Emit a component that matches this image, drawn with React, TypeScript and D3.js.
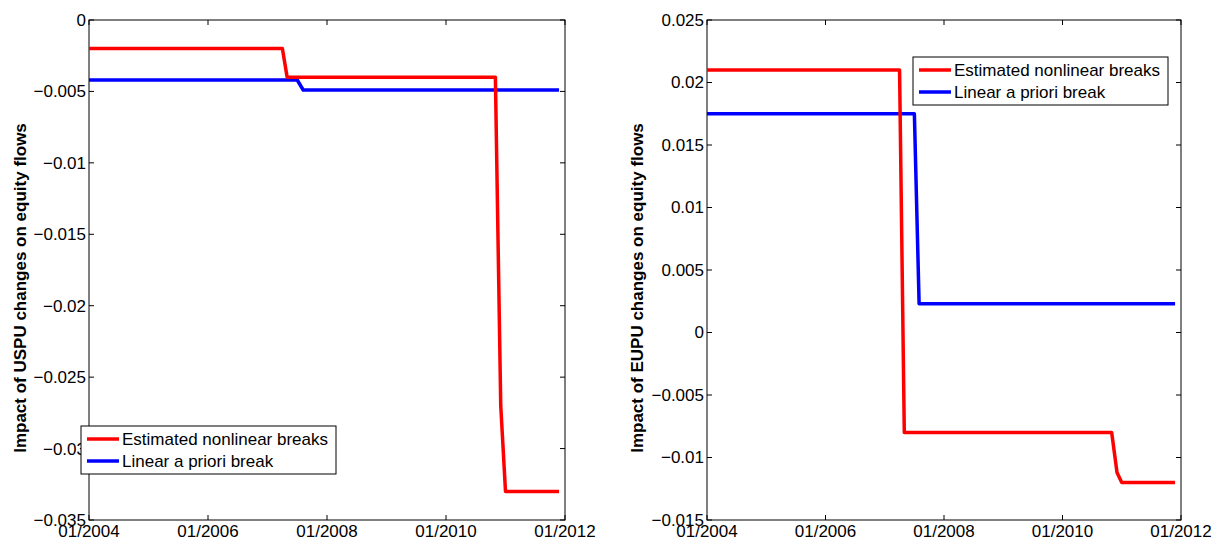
import * as d3 from 'd3'

const xTicks = [2004, 2006, 2008, 2010, 2012]
const xTickLabels = ['01/2004', '01/2006', '01/2008', '01/2010', '01/2012']

const usX = [2004, 2007.25, 2007.33, 2010.83, 2010.92, 2011.0, 2011.9]
const usRed = [-0.002, -0.002, -0.004, -0.004, -0.027, -0.033, -0.033]
const usBlueX = [2004, 2007.5, 2007.6, 2011.9]
const usBlue = [-0.0042, -0.0042, -0.0049, -0.0049]
const usYTicks = [0, -0.005, -0.01, -0.015, -0.02, -0.025, -0.03, -0.035]

const euX = [2004, 2007.25, 2007.33, 2010.83, 2010.92, 2011.0, 2011.9]
const euRed = [0.021, 0.021, -0.008, -0.008, -0.0112, -0.012, -0.012]
const euBlueX = [2004, 2007.5, 2007.58, 2011.9]
const euBlue = [0.0175, 0.0175, 0.0023, 0.0023]
const euYTicks = [0.025, 0.02, 0.015, 0.01, 0.005, 0, -0.005, -0.01, -0.015]

const legendLabels = ['Estimated nonlinear breaks', 'Linear a priori break']
const FONT = 'Liberation Sans, Arial, sans-serif'

const fmt = (v: number) => (v === 0 ? '0' : (v < 0 ? '\u2212' : '') + String(Math.abs(v)))

interface PanelProps {
  left: number
  right: number
  yDomain: [number, number]
  yTicks: number[]
  yLabel: string
  labelX: number
  redX: number[]
  red: number[]
  blueX: number[]
  blue: number[]
  legend: { x: number; y: number }
}

function Panel(p: PanelProps) {
  const top = 20
  const bottom = 520
  const x = d3.scaleLinear().domain([2004, 2012]).range([p.left, p.right])
  const y = d3.scaleLinear().domain(p.yDomain).range([bottom, top])
  const line = d3.line<[number, number]>().x(d => x(d[0])).y(d => y(d[1]))
  const redPts = p.redX.map((v, i) => [v, p.red[i]] as [number, number])
  const bluePts = p.blueX.map((v, i) => [v, p.blue[i]] as [number, number])
  const tl = 5
  return (
    <g fontFamily={FONT}>
      <rect x={p.left} y={top} width={p.right - p.left} height={bottom - top} fill="#fff" stroke="#000" strokeWidth={1} />
      {p.yTicks.map(t => (
        <g key={t}>
          <line x1={p.left} x2={p.left + tl} y1={y(t)} y2={y(t)} stroke="#000" />
          <line x1={p.right} x2={p.right - tl} y1={y(t)} y2={y(t)} stroke="#000" />
          <text x={p.left - 3} y={y(t)} dy="0.35em" textAnchor="end" fontSize={17}>{fmt(t)}</text>
        </g>
      ))}
      {xTicks.map((t, i) => (
        <g key={t}>
          <line x1={x(t)} x2={x(t)} y1={bottom} y2={bottom - tl} stroke="#000" />
          <line x1={x(t)} x2={x(t)} y1={top} y2={top + tl} stroke="#000" />
          <text x={x(t)} y={bottom + 17} textAnchor="middle" fontSize={17}>{xTickLabels[i]}</text>
        </g>
      ))}
      <text transform={`translate(${p.labelX},${(top + bottom) / 2 + 18}) rotate(-90)`} dy="0.35em" textAnchor="middle" fontSize={17} fontWeight="bold">{p.yLabel}</text>
      <path d={line(bluePts) ?? ''} fill="none" stroke="#0000ff" strokeWidth={3.5} strokeLinejoin="round" />
      <path d={line(redPts) ?? ''} fill="none" stroke="#ff0000" strokeWidth={3.5} strokeLinejoin="round" />
      <g transform={`translate(${p.legend.x},${p.legend.y})`}>
        <rect width={255} height={48} fill="#fff" stroke="#000" strokeWidth={1} />
        {legendLabels.map((l, i) => (
          <g key={l} transform={`translate(0,${13 + i * 22})`}>
            <line x1={6} x2={38} y1={0} y2={0} stroke={i === 0 ? '#ff0000' : '#0000ff'} strokeWidth={3.5} />
            <text x={41} y={0} dy="0.35em" fontSize={17}>{l}</text>
          </g>
        ))}
      </g>
    </g>
  )
}

export default function App() {
  return (
    <svg width={1212} height={541} style={{ position: 'absolute', left: 0, top: 0, background: '#fff' }}>
      <rect width={1212} height={541} fill="#fff" />
      <Panel left={89} right={565} yDomain={[-0.035, 0]} yTicks={usYTicks} labelX={20}
        yLabel="Impact of USPU changes on equity flows"
        redX={usX} red={usRed} blueX={usBlueX} blue={usBlue} legend={{ x: 81, y: 426 }} />
      <Panel left={707} right={1181} yDomain={[-0.015, 0.025]} yTicks={euYTicks} labelX={637}
        yLabel="Impact of EUPU changes on equity flows"
        redX={euX} red={euRed} blueX={euBlueX} blue={euBlue} legend={{ x: 913, y: 57 }} />
    </svg>
  )
}
